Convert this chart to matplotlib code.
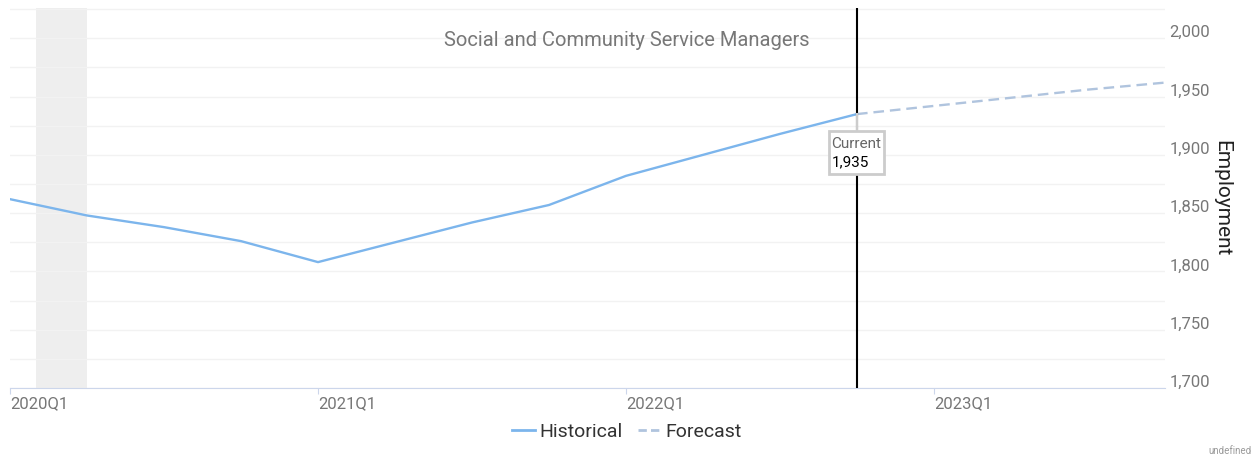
import numpy as np
import matplotlib
matplotlib.use('Agg')
import matplotlib.pyplot as plt
import matplotlib.transforms as mtransforms
from matplotlib.lines import Line2D
from matplotlib.patches import Rectangle

plt.rcParams['font.family'] = ['Roboto', 'DejaVu Sans']

# data (quarters from 2020Q1)
quarters = ['2020Q1', '2020Q2', '2020Q3', '2020Q4',
            '2021Q1', '2021Q2', '2021Q3', '2021Q4',
            '2022Q1', '2022Q2', '2022Q3', '2022Q4',
            '2023Q1', '2023Q2', '2023Q3', '2023Q4']
hist_vals = [1862, 1848, 1838, 1826, 1808, 1825, 1842, 1857, 1882, 1900, 1918, 1935]
fcst_vals = [1935, 1942, 1949, 1956, 1962]
current_label = '1,935'
title = 'Social and Community Service Managers'
year_ticks = ['2020Q1', '2021Q1', '2022Q1', '2023Q1']
y_ticks = [1700, 1750, 1800, 1850, 1900, 1950, 2000]

xh = np.arange(len(hist_vals))
xf = np.arange(len(hist_vals) - 1, len(hist_vals) - 1 + len(fcst_vals))
cur = len(hist_vals) - 1

W, H = 1253, 457
fig = plt.figure(figsize=(W / 100, H / 100), dpi=100)
ax = fig.add_axes([10 / W, (H - 388) / H, (1165 - 10) / W, (388 - 8) / H])

# recession shade
ax.axvspan(0.34, 1.0, color='#eeeeee', lw=0, zorder=0)

ax.plot(xh, hist_vals, color='#7cb5ec', lw=1.7, zorder=3)
ax.plot(xf, fcst_vals, color='#b0c4de', lw=1.7, ls=(0, (4.5, 2.5)), zorder=3)

ax.axvline(cur, color='black', lw=1.5, zorder=4)

ax.set_xlim(0, len(quarters) - 1)
ax.set_ylim(1700, 2026)

# grid
ax.set_yticks(y_ticks)
ax.set_yticks(np.arange(1725, 2026, 25), minor=True)
ax.yaxis.grid(True, which='both', color='#f2f2f2', lw=1)
ax.set_axisbelow(True)
ax.yaxis.tick_right()
ax.tick_params(axis='y', which='both', length=0, labelsize=12, labelcolor='#777777', pad=3)
ax.set_yticklabels(['{:,}'.format(v) for v in y_ticks])
off = mtransforms.ScaledTranslation(0, 7 / 100, fig.dpi_scale_trans)
for lab in ax.yaxis.get_majorticklabels():
    lab.set_transform(lab.get_transform() + off)

ax.set_xticks([quarters.index(q) for q in year_ticks])
ax.set_xticklabels(year_ticks)
ax.tick_params(axis='x', length=4, color='#ccd6eb', labelsize=12, labelcolor='#777777', pad=2)
for lab in ax.get_xticklabels():
    lab.set_ha('left')

for s in ['top', 'left', 'right']:
    ax.spines[s].set_visible(False)
ax.spines['bottom'].set_color('#ccd6eb')

ax.yaxis.set_label_position('right')
ax.set_ylabel('Employment', rotation=270, fontsize=15, color='#222222')
ax.yaxis.set_label_coords(1.057, 0.5)

fig.text(0.5, (H - 41) / H, title, ha='center', va='center', fontsize=14.5, color='#777777')

# current annotation
box_top, box_bot = 1920.3, 1883.4
ax.plot([cur, cur], [hist_vals[-1], box_top], color='#cccccc', lw=1.5, zorder=5)
ax.add_patch(Rectangle((cur - 0.364, box_bot), 0.714, box_top - box_bot,
                       fc='white', ec='#cccccc', lw=2, zorder=6))
ax.text(cur - 0.33, 1909, 'Current', ha='left', va='center', fontsize=11,
        color='#666666', zorder=7)
ax.text(cur - 0.33, 1893.5, current_label, ha='left', va='center',
        fontsize=11, color='black', zorder=7)

handles = [Line2D([], [], color='#7cb5ec', lw=2),
           Line2D([], [], color='#b0c4de', lw=2, ls=(0, (3, 1.5)))]
fig.legend(handles, ['Historical', 'Forecast'], loc='center', bbox_to_anchor=(0.5, (H - 432) / H),
           ncol=2, frameon=False, fontsize=14, handlelength=1.2, handletextpad=0.2,
           columnspacing=0.8, labelcolor='#333333')

fig.text(1230 / W, (H - 451) / H, 'undefined', ha='center', va='center', fontsize=7, color='#999999')

fig.savefig('out.png', dpi=100)
